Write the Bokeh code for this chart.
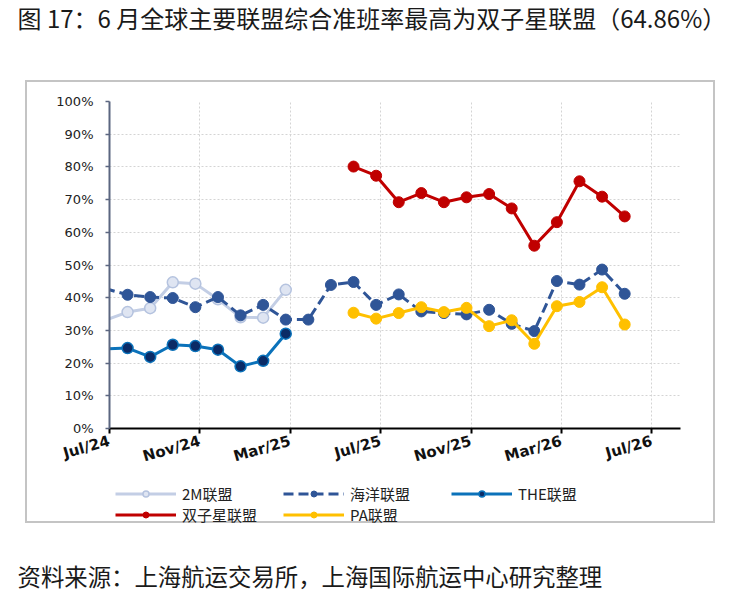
from bokeh.plotting import figure
from bokeh.models import Range1d, FixedTicker, Legend, LegendItem, Title
from bokeh.layouts import column
from bokeh.embed import file_html
from bokeh.resources import INLINE

# ---- data ----
periods = ["2024-07", "2024-08", "2024-09", "2024-10", "2024-11", "2024-12",
           "2025-01", "2025-02", "2025-03", "2025-04", "2025-05", "2025-06",
           "2025-07", "2025-08", "2025-09", "2025-10", "2025-11", "2025-12",
           "2026-01", "2026-02", "2026-03", "2026-04", "2026-05", "2026-06"]
tick_months = [0, 4, 8, 12, 16, 20, 24]
tick_labels = ["Jul/24", "Nov/24", "Mar/25", "Jul/25", "Nov/25", "Mar/26", "Jul/26"]

alliance_2m = [33.1, 35.6, 36.8, 44.7, 44.3, 39.5, 34.0, 33.9, 42.4]
ocean = [42.8, 40.9, 40.2, 39.9, 37.1, 40.2, 34.6, 37.8, 33.3, 33.3, 43.9, 44.8,
         37.8, 41.0, 35.8, 35.3, 34.9, 36.3, 32.0, 29.8, 45.1, 44.0, 48.6, 41.2]
the = [24.3, 24.6, 21.9, 25.6, 25.2, 24.1, 19.0, 20.7, 29.0]
gemini = [80.1, 77.3, 69.2, 72.0, 69.2, 70.7, 71.7, 67.3, 55.9, 63.1, 75.6, 70.9, 64.86]
pa = [35.4, 33.6, 35.3, 37.1, 35.6, 36.9, 31.3, 33.1, 25.9, 37.4, 38.7, 43.2, 31.8]

series_names = ["2M联盟", "海洋联盟", "THE联盟", "双子星联盟", "PA联盟"]

title_text = "图 17：6 月全球主要联盟综合准班率最高为双子星联盟（64.86%）"
source_text = "资料来源：上海航运交易所，上海国际航运中心研究整理"

FONT_CJK = "Noto Sans CJK SC"
BOX = "#c4c4c4"

# styles per series: line color, dash, marker fill, marker edge, edge width
STYLES = {
    "2M联盟": ("#c3cee5", "solid", "#dfe5f2", "#b5c3df", 1.5),
    "海洋联盟": ("#2f5597", "10 5", "#2f5597", "#2f5597", 1.0),
    "THE联盟": ("#0b72ba", "solid", "#0b2b66", "#0b72ba", 1.5),
    "双子星联盟": ("#c00000", "solid", "#c00000", "#c00000", 1.0),
    "PA联盟": ("#ffc000", "solid", "#ffc000", "#ffc000", 1.0),
}


def xpos(per):
    y, m = per.split("-")
    return (int(y) - 2024) * 12 + int(m) - 7 - 0.2


x_all = [xpos(p) for p in periods]
n = len(periods)
series_data = {
    "2M联盟": (x_all[:len(alliance_2m)], alliance_2m, 1),
    "海洋联盟": (x_all, ocean, 1),
    "THE联盟": (x_all[:len(the)], the, 1),
    "双子星联盟": (x_all[n - len(gemini):], gemini, 0),
    "PA联盟": (x_all[n - len(pa):], pa, 0),
}

# ---------------- main chart ----------------
p = figure(width=730, height=474, output_backend="svg", toolbar_location=None,
           x_range=Range1d(0, 25.27), y_range=Range1d(0, 100),
           min_border_left=109, min_border_right=50, min_border_top=101,
           min_border_bottom=46)
p.frame_width = 571
p.frame_height = 327
p.title.text = ""
p.outline_line_color = None
p.border_fill_color = None
p.background_fill_color = "white"

p.xaxis.ticker = FixedTicker(ticks=tick_months)
p.xaxis.major_label_overrides = {t: l for t, l in zip(tick_months, tick_labels)}
p.xaxis.major_label_orientation = 0.28
p.xaxis.major_label_text_font = "DejaVu Sans"
p.xaxis.major_label_text_font_style = "bold"
p.xaxis.major_label_text_font_size = "15px"
p.xaxis.major_label_text_color = "#111111"
p.xaxis.major_label_standoff = 7
p.xaxis.axis_line_color = "black"
p.xaxis.axis_line_width = 2
p.xaxis.major_tick_line_color = "black"
p.xaxis.major_tick_line_width = 2
p.xaxis.major_tick_out = 5
p.xaxis.major_tick_in = 0
p.xaxis.minor_tick_line_color = None

p.yaxis.ticker = FixedTicker(ticks=list(range(0, 101, 10)))
p.yaxis.major_label_overrides = {v: f"{v}%" for v in range(0, 101, 10)}
p.yaxis.major_label_text_font = "DejaVu Sans"
p.yaxis.major_label_text_font_size = "13px"
p.yaxis.major_label_text_color = "#222222"
p.yaxis.major_label_standoff = 12
p.yaxis.axis_line_color = "#5b6680"
p.yaxis.axis_line_width = 2
p.yaxis.major_tick_line_color = "#5b6680"
p.yaxis.major_tick_line_width = 1.5
p.yaxis.major_tick_out = 4
p.yaxis.major_tick_in = 0
p.yaxis.minor_tick_line_color = None

p.xgrid.ticker = FixedTicker(ticks=tick_months[1:])
p.ygrid.ticker = FixedTicker(ticks=list(range(10, 101, 10)))
for g in (p.xgrid, p.ygrid):
    g.grid_line_color = "#d4d4d4"
    g.grid_line_dash = "2 2"
    g.grid_line_width = 1

for name in series_names:
    xs, ys, skip = series_data[name]
    lc, dash, fc, ec, ew = STYLES[name]
    p.line(xs, ys, line_color=lc, line_width=3, line_dash=dash)
    p.scatter(xs[skip:], ys[skip:], size=11, fill_color=fc, line_color=ec, line_width=ew)

p.add_layout(Title(text=" ", text_font_size="1px", standoff=64), "above")
p.add_layout(Title(text=title_text, align="left", offset=-92, vertical_align="top",
                   standoff=-4, text_font=FONT_CJK, text_font_size="24px",
                   text_font_style="normal", text_color="#1a1a1a"), "above")

# ---------------- legend strip ----------------
# same series drawn into a strip whose y-range excludes them, so only the
# legend samples are visible
pl = figure(width=730, height=56, output_backend="svg", toolbar_location=None,
            x_range=Range1d(0, 25.27), y_range=Range1d(-2, -1),
            x_axis_type=None, y_axis_type=None,
            min_border_left=109, min_border_right=50, min_border_top=0,
            min_border_bottom=0)
pl.title.text = ""
pl.outline_line_color = None
pl.border_fill_color = None
pl.background_fill_color = None
pl.xgrid.visible = False
pl.ygrid.visible = False

items = []
for name in series_names:
    xs, ys, skip = series_data[name]
    lc, dash, fc, ec, ew = STYLES[name]
    rl = pl.line(xs, ys, line_color=lc, line_width=3, line_dash=dash)
    rs = pl.scatter(xs[skip:], ys[skip:], size=11, fill_color=fc, line_color=ec,
                    line_width=ew)
    items.append(LegendItem(label=name, renderers=[rl, rs]))

legend = Legend(items=items, orientation="horizontal", ncols=3, location="top_left")
legend.glyph_width = 61
legend.glyph_height = 15
legend.label_height = 15
legend.label_width = 101
legend.label_standoff = 6
legend.spacing = 0
legend.padding = 0
legend.margin = 6
legend.border_line_color = None
legend.background_fill_alpha = 0
legend.label_text_font = FONT_CJK
legend.label_text_font_size = "15px"
legend.label_text_color = "#222222"
pl.add_layout(legend)

# ---------------- source strip ----------------
ps = figure(width=730, height=67, output_backend="svg", toolbar_location=None,
            x_range=Range1d(0, 1), y_range=Range1d(0, 1),
            x_axis_type=None, y_axis_type=None,
            min_border_left=109, min_border_right=50, min_border_top=60,
            min_border_bottom=0)
ps.title.text = ""
ps.outline_line_color = None
ps.border_fill_color = None
ps.background_fill_color = None
ps.xgrid.visible = False
ps.ygrid.visible = False
ps.add_layout(Title(text=source_text, align="left", offset=-92, vertical_align="top",
                    standoff=-2, text_font=FONT_CJK, text_font_size="23.4px",
                    text_font_style="normal", text_color="#1a1a1a"), "above")

grad = f"linear-gradient({BOX},{BOX})"
layout = column(p, pl, ps, spacing=0)
layout.styles = {
    "background-color": "white",
    "background-image": ", ".join([grad] * 4),
    "background-repeat": "no-repeat",
    "background-position": "25px 80px, 25px 521px, 25px 80px, 713px 80px",
    "background-size": "690px 2px, 690px 2px, 2px 443px, 2px 443px",
}

open("out.html", "w").write(file_html(layout, INLINE))
